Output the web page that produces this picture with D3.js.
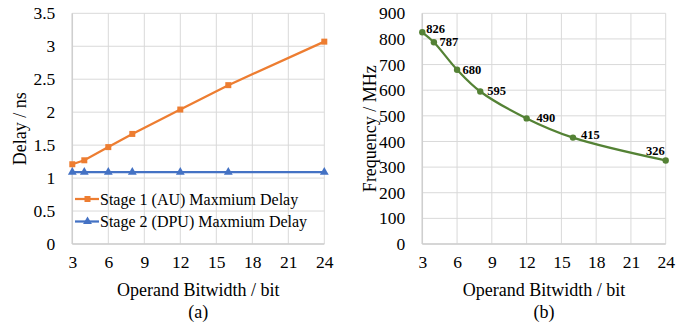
<!DOCTYPE html>
<html>
<head>
<meta charset="utf-8">
<script src="https://cdn.jsdelivr.net/npm/d3@7"></script>
<style>
  html, body { margin: 0; padding: 0; background: #fff; }
  svg text { font-family: 'Liberation Serif', 'Times New Roman', Times, serif !important; fill: #000; }
</style>
</head>
<body>
<svg id="chart" width="692" height="322"></svg>
<script>
// ---- data ----
const bitwidths = [3, 4, 6, 8, 12, 16, 24];
const stage1Delay = [1.21, 1.27, 1.47, 1.67, 2.04, 2.41, 3.07];
const stage2Delay = [1.09, 1.09, 1.09, 1.09, 1.09, 1.09, 1.09];
const seriesNames = ["Stage 1 (AU) Maxmium Delay", "Stage 2 (DPU) Maxmium Delay"];
const frequency = [826, 787, 680, 595, 490, 415, 326];
const xTicks = [3, 6, 9, 12, 15, 18, 21, 24];
const delayTicks = [0, 0.5, 1, 1.5, 2, 2.5, 3, 3.5];
const freqTicks = [0, 100, 200, 300, 400, 500, 600, 700, 800, 900];
const xTitle = "Operand Bitwidth / bit";
const delayTitle = "Delay / ns";
const freqTitle = "Frequency / MHz";
const captions = ["(a)", "(b)"];

// ---- layout / style (not data) ----
const ORANGE = "#ED7D31", BLUE = "#4472C4", GREEN = "#548235", GRID = "#d9d9d9";
const svg = d3.select("#chart");
const plotTop = 13.3, plotBottom = 244;

function panel(left, right, yMax, yTicks, yTitle, caption, tickFmt) {
  const g = svg.append("g");
  const x = d3.scaleLinear().domain([3, 24]).range([left, right]);
  const y = d3.scaleLinear().domain([0, yMax]).range([plotBottom, plotTop]);
  g.selectAll(".hg").data(yTicks).enter().append("line")
    .attr("x1", left).attr("x2", right)
    .attr("y1", d => y(d)).attr("y2", d => y(d))
    .attr("stroke", GRID).attr("stroke-width", 1);
  g.selectAll(".vg").data(xTicks).enter().append("line")
    .attr("x1", d => x(d)).attr("x2", d => x(d))
    .attr("y1", plotTop).attr("y2", plotBottom)
    .attr("stroke", GRID).attr("stroke-width", 1);
  g.append("line").attr("x1", left).attr("x2", right).attr("y1", plotBottom).attr("y2", plotBottom)
    .attr("stroke", "#cfcfcf").attr("stroke-width", 1.5);
  g.append("line").attr("x1", left).attr("x2", left).attr("y1", plotTop).attr("y2", plotBottom)
    .attr("stroke", "#cfcfcf").attr("stroke-width", 1.5);
  const ya = g.append("g").attr("transform", `translate(${left},0)`)
    .call(d3.axisLeft(y).tickValues(yTicks).tickFormat(tickFmt).tickSize(0).tickPadding(17));
  ya.select(".domain").remove();
  ya.attr("font-size", 17.5);
  const xa = g.append("g").attr("transform", `translate(0,${plotBottom})`)
    .call(d3.axisBottom(x).tickValues(xTicks).tickSize(0).tickPadding(12));
  xa.select(".domain").remove();
  xa.attr("font-size", 17.5);
  const cx = (left + right) / 2;
  g.append("text").attr("x", cx).attr("y", 296).attr("text-anchor", "middle")
    .attr("font-size", 18).text(xTitle);
  g.append("text").attr("x", cx).attr("y", 318).attr("text-anchor", "middle")
    .attr("font-size", 18).text(caption);
  g.append("text").attr("transform", `translate(${left - 46},${(plotTop + plotBottom) / 2}) rotate(-90)`)
    .attr("text-anchor", "middle").attr("font-size", 18).text(yTitle);
  return { g, x, y };
}

// ---- panel (a) ----
const A = panel(72.3, 324.3, 3.5, delayTicks, delayTitle, captions[0], d => String(d));
const lineA = d3.line().x((d, i) => A.x(bitwidths[i])).y(d => A.y(d));
A.g.append("path").datum(stage2Delay).attr("d", lineA)
  .attr("fill", "none").attr("stroke", BLUE).attr("stroke-width", 2.25);
A.g.append("path").datum(stage1Delay).attr("d", lineA)
  .attr("fill", "none").attr("stroke", ORANGE).attr("stroke-width", 2.25);
const tri = d3.symbol().type(d3.symbolTriangle).size(34);
A.g.selectAll(".tri").data(stage2Delay).enter().append("path")
  .attr("d", tri).attr("fill", BLUE)
  .attr("transform", (d, i) => `translate(${A.x(bitwidths[i])},${A.y(d)})`);
A.g.selectAll(".sq").data(stage1Delay).enter().append("rect")
  .attr("x", (d, i) => A.x(bitwidths[i]) - 3).attr("y", d => A.y(d) - 3)
  .attr("width", 6).attr("height", 6).attr("fill", ORANGE);

// legend
const legColors = [ORANGE, BLUE];
const leg = A.g.selectAll(".leg").data(seriesNames).enter().append("g")
  .attr("transform", (d, i) => `translate(75,${199 + i * 22.5})`);
leg.append("line").attr("x1", 0).attr("x2", 24).attr("y1", 0).attr("y2", 0)
  .attr("stroke", (d, i) => legColors[i]).attr("stroke-width", 2.25);
leg.each(function (d, i) {
  const s = d3.select(this);
  if (i === 0) {
    s.append("rect").attr("x", 9.5).attr("y", -3).attr("width", 6).attr("height", 6).attr("fill", ORANGE);
  } else {
    s.append("path").attr("d", tri).attr("fill", BLUE).attr("transform", "translate(12.5,0)");
  }
});
leg.append("text").attr("x", 25).attr("y", 5.5).attr("font-size", 16).text(d => d);

// ---- panel (b) ----
const B = panel(422.3, 665.7, 900, freqTicks, freqTitle, captions[1], d => String(d));
const lineB = d3.line().curve(d3.curveCatmullRom.alpha(0.5))
  .x((d, i) => B.x(bitwidths[i])).y(d => B.y(d));
B.g.append("path").datum(frequency).attr("d", lineB)
  .attr("fill", "none").attr("stroke", GREEN).attr("stroke-width", 2.25);
B.g.selectAll(".dot").data(frequency).enter().append("circle")
  .attr("cx", (d, i) => B.x(bitwidths[i])).attr("cy", d => B.y(d))
  .attr("r", 3.2).attr("fill", GREEN);
const labelOffsets = [[4, -3.5, "start"], [5.5, -1, "start"], [5.5, 0, "start"], [7, -1, "start"],
                      [10, -1, "start"], [8, -2.5, "start"], [-1, -10, "end"]];
B.g.selectAll(".lbl").data(frequency).enter().append("text")
  .attr("x", (d, i) => B.x(bitwidths[i]) + labelOffsets[i][0])
  .attr("y", (d, i) => B.y(d) + labelOffsets[i][1])
  .attr("dy", "0.35em")
  .attr("text-anchor", (d, i) => labelOffsets[i][2])
  .attr("font-size", 12.5).attr("font-weight", "bold")
  .text(d => d);
</script>
</body>
</html>
